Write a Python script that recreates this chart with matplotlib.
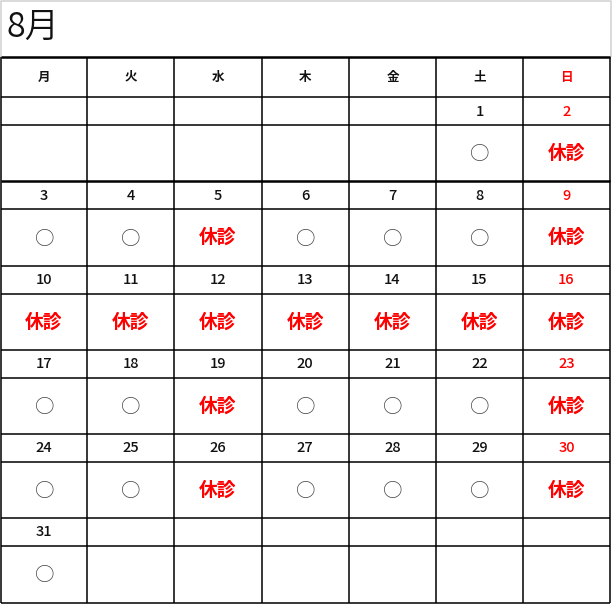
import matplotlib
matplotlib.use("Agg")
import matplotlib.pyplot as plt

plt.rcParams['font.family'] = ['Noto Sans CJK JP', 'DejaVu Sans']

title = "8月"
weekdays = ['月', '火', '水', '木', '金', '土', '日']
first_weekday = 5  # Aug 1 is Saturday (index in weekdays)
n_days = 31
closed_days = [2, 5, 9, 10, 11, 12, 13, 14, 15, 16, 19, 23, 26, 30]
open_mark = "○"
closed_mark = "休診"

W, H = 612, 605
fig = plt.figure(figsize=(W / 100, H / 100), dpi=100)
ax = fig.add_axes([0, 0, 1, 1])
ax.set_xlim(0, W)
ax.set_ylim(H, 0)
ax.axis('off')

# layout (pixel positions)
col_x = [0.5, 87, 174, 261.5, 349, 436, 523, 610]
header_top, header_bot = 57, 97
week_bounds = [(97, 125, 181), (181, 209, 266), (266, 294, 350),
               (350, 378, 434), (434, 462, 518), (518, 546, 603)]

# title frame
ax.plot([0.5, 0.5, 610.5, 610.5], [header_top, 0.5, 0.5, header_top],
        color='#d4d4d4', lw=1.2, solid_capstyle='butt')
ax.text(6, 27.5, title, fontsize=24.5, fontweight=350, va='center',
        ha='left', color='#111111')

lw_thin = 1.1
lw_thick = 1.8
# horizontal lines
ax.hlines(header_top, col_x[0], col_x[-1], color='black', lw=lw_thick)
ax.hlines(header_bot, col_x[0], col_x[-1], color='black', lw=lw_thin)
for i, (t, m, b) in enumerate(week_bounds):
    ax.hlines(m, col_x[0], col_x[-1], color='black', lw=lw_thin)
    ax.hlines(b, col_x[0], col_x[-1], color='black',
              lw=lw_thick if i == 0 else lw_thin)
# vertical lines
ax.vlines(col_x, header_top, week_bounds[-1][2], color='black', lw=lw_thin)

def cx(c):
    return (col_x[c] + col_x[c + 1]) / 2

red = '#ff0000'
for c, wd in enumerate(weekdays):
    ax.text(cx(c), (header_top + header_bot) / 2, wd, fontsize=9,
            fontweight='bold', ha='center', va='center',
            color=red if c == 6 else '#111111')

for d in range(1, n_days + 1):
    pos = first_weekday + d - 1
    w, c = divmod(pos, 7)
    t, m, b = week_bounds[w]
    col = red if c == 6 else '#111111'
    ax.text(cx(c), (t + m) / 2 + 0.5, str(d), fontsize=10.5, fontweight='medium',
            ha='center', va='center', color=col)
    if d in closed_days:
        ax.text(cx(c), (m + b) / 2, closed_mark, fontsize=13.5,
                fontweight='bold', ha='center', va='center', color=red)
    else:
        ax.text(cx(c) + 0.5, (m + b) / 2 + 1.5, open_mark, fontsize=14,
                fontweight=350, ha='center', va='center', color='#444444')

fig.savefig('out.png', dpi=100, facecolor='white')
